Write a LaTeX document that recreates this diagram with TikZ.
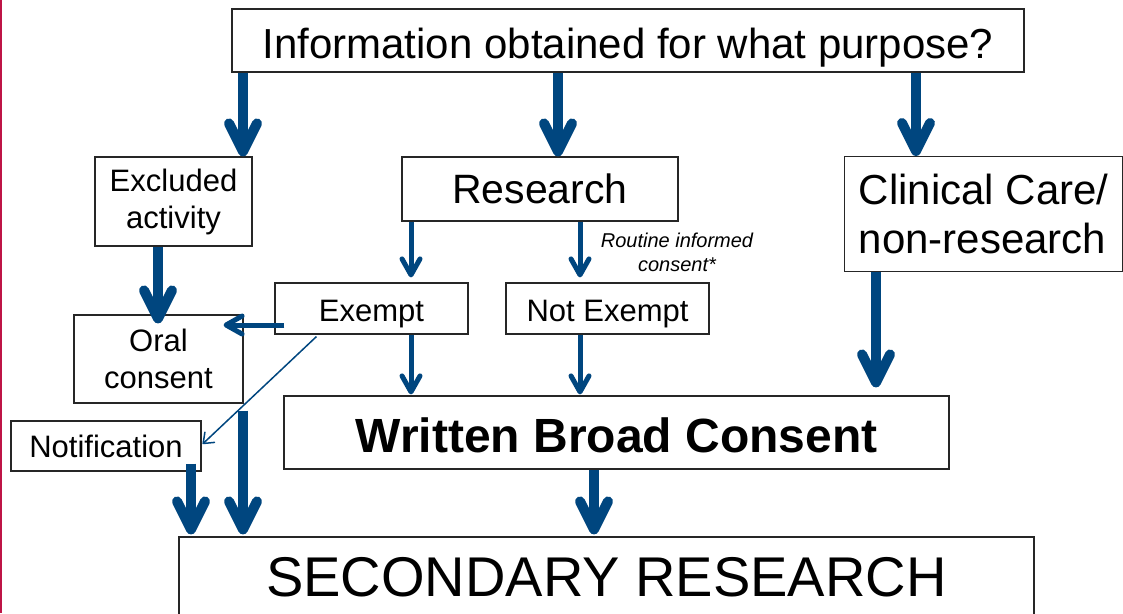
\documentclass[tikz,border=0pt]{standalone}
\usepackage{fontspec}
\setmainfont{Liberation Sans}
\usetikzlibrary{arrows.meta,calc}
\definecolor{arrowblue}{RGB}{0,70,127}
\definecolor{edgered}{RGB}{190,20,70}
\begin{document}
\begin{tikzpicture}[x=1pt,y=-1pt,
  box/.style={draw=black!85, line width=1.2pt, inner sep=0pt, align=center, fill=white},
  fbig/.style={font=\fontsize{42pt}{49pt}\selectfont},
  fmid/.style={font=\fontsize{31pt}{37pt}\selectfont},
  thickarrow/.style={draw=arrowblue, line width=10pt, -{Straight Barb[length=28pt,width=28pt,round]}},
  midarrow/.style={draw=arrowblue, line width=5pt, -{Straight Barb[length=16pt,width=18pt,round]}},
  thinarrow/.style={draw=arrowblue, line width=1.5pt, -{Straight Barb[length=9pt,width=14pt,round]}}
]
\clip (0,0) rectangle (1123,613);
\fill[white] (0,0) rectangle (1123,613);
\draw[edgered, line width=1.5pt] (0.75,0) -- (0.75,613);

% columns and rows
\coordinate (c1) at (243,0);
\coordinate (c2) at (558,0);
\coordinate (c3) at (916,0);
\coordinate (c4) at (158,0);
\coordinate (c5) at (876,0);
\coordinate (c6) at (594,0);
\coordinate (c7) at (191,0);
\coordinate (c8) at (411,0);
\coordinate (c9) at (580,0);
\coordinate (r1) at (0,325);

% boxes
\node[box, fbig, minimum width=792pt, minimum height=63pt, text height=35pt, text depth=0pt] (top) at (628,40.5) {Information obtained for what purpose?};
\node[box, fmid, minimum width=157pt, minimum height=89pt] (excl) at (173.5,201.5) {Excluded\\activity};
\node[box, font=\fontsize{41pt}{48pt}\selectfont, minimum width=276pt, minimum height=64pt] (res) at (540,189) {Research};
\node[box, fbig, anchor=north west, minimum width=278pt, minimum height=115pt, align=left] (clin) at (844,156) {Clinical Care/\\non-research};
\node[box, fmid, minimum width=193pt, minimum height=51pt, text height=25pt, text depth=0pt] (ex) at (371.5,308.5) {Exempt};
\node[box, fmid, minimum width=203pt, minimum height=51pt, text height=25pt, text depth=0pt] (nex) at (607.5,308.5) {Not Exempt};
\node[box, fmid, minimum width=169pt, minimum height=88pt] (oral) at (158.5,359) {Oral\\consent};
\node[box, fmid, minimum width=190pt, minimum height=50pt] (notif) at (106,446) {Notification};
\node[box, font=\bfseries\fontsize{48pt}{56pt}\selectfont, minimum width=665pt, minimum height=73pt, text height=39pt, text depth=0pt] (wbc) at (616.5,432.5) {Written Broad Consent};
\node[box, font=\fontsize{56pt}{64pt}\selectfont, minimum width=855pt, minimum height=80pt] (sr) at (606.5,577) {SECONDARY RESEARCH};
\node[font=\itshape\fontsize{20pt}{24pt}\selectfont, align=center, inner sep=0pt] (lbl) at (677,252) {Routine informed\\consent*};

% thick arrows
\draw[thickarrow] (top.south -| c1) -- (excl.north -| c1);
\draw[thickarrow] (top.south -| c2) -- (res.north -| c2);
\draw[thickarrow] (top.south -| c3) -- (clin.north -| c3);
\draw[thickarrow] (excl.south -| c4) -- ($(oral.north -| c4)+(0,9)$);
\draw[thickarrow] (clin.south -| c5) -- ($(wbc.north -| c5)+(0,-8)$);
\draw[thickarrow] (wbc.south -| c6) -- ($(sr.north -| c6)+(0,-2)$);
\draw[thickarrow] ($(notif.south -| c7)+(0,-8)$) -- ($(sr.north -| c7)+(0,-2)$);
\draw[thickarrow] ($(oral.south -| c1)+(0,7)$) -- ($(sr.north -| c1)+(0,-2)$);

% medium arrows
\draw[midarrow] (res.south -| c8) -- ($(ex.north -| c8)+(0,-5)$);
\draw[midarrow] (res.south -| c9) -- ($(nex.north -| c9)+(0,-5)$);
\draw[midarrow] (ex.south -| c8) -- ($(wbc.north -| c8)+(0,-1)$);
\draw[midarrow] (nex.south -| c9) -- ($(wbc.north -| c9)+(0,-1)$);
\draw[midarrow] ($(ex.west |- r1)+(10,0)$) -- ($(oral.east |- r1)+(-20,0)$);

% thin arrow
\draw[thinarrow] ($(ex.south west)+(42,2)$) -- ($(notif.east)+(1,-2)$);
\end{tikzpicture}
\end{document}
